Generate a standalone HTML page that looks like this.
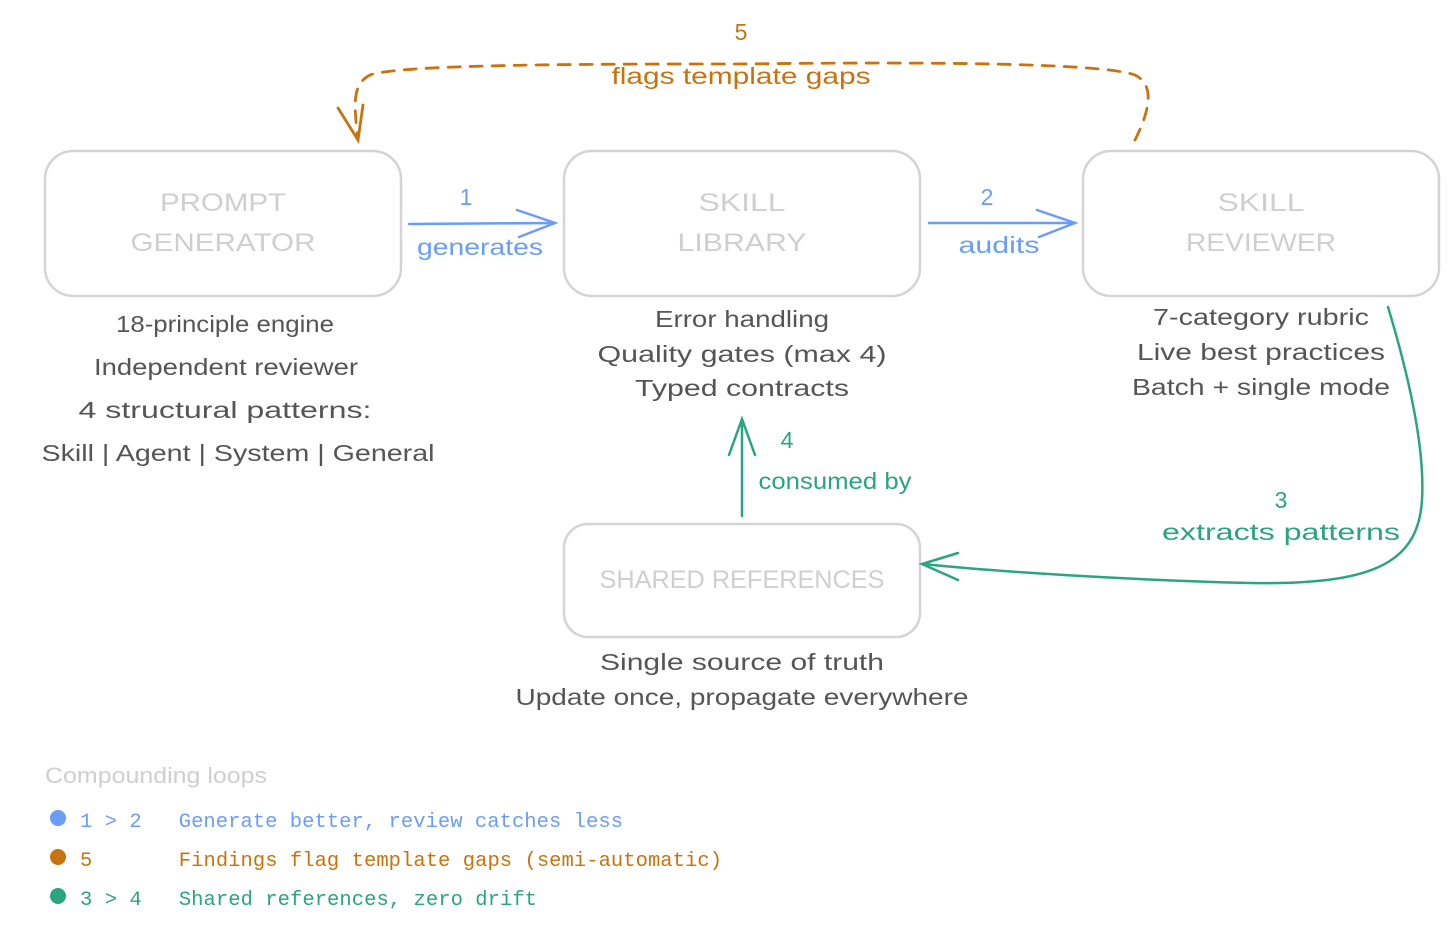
<!DOCTYPE html>
<html><head><meta charset="utf-8"><style>
html,body{margin:0;padding:0;background:#fff;}
svg{display:block;}
.h{font-family:"Liberation Sans",sans-serif;}
.m{font-family:"Liberation Mono",monospace;font-size:20.5px;}
</style></head><body>
<svg width="1456" height="928" viewBox="0 0 1456 928" xmlns="http://www.w3.org/2000/svg">
<g fill="none" stroke="#d4d4d4" stroke-width="2.5">
<rect x="45" y="151" width="356" height="145" rx="28"/>
<rect x="564" y="151" width="356" height="145" rx="28"/>
<rect x="1083" y="151" width="356" height="145" rx="28"/>
<rect x="564" y="524" width="356" height="113" rx="24"/>
</g>
<g class="h" fill="#cfcfcf" font-size="25" text-anchor="middle" lengthAdjust="spacingAndGlyphs">
<text x="223" y="211" textLength="126" lengthAdjust="spacingAndGlyphs">PROMPT</text>
<text x="223" y="251" textLength="185" lengthAdjust="spacingAndGlyphs">GENERATOR</text>
<text x="742" y="211" textLength="87" lengthAdjust="spacingAndGlyphs">SKILL</text>
<text x="742" y="251" textLength="129" lengthAdjust="spacingAndGlyphs">LIBRARY</text>
<text x="1261" y="211" textLength="87" lengthAdjust="spacingAndGlyphs">SKILL</text>
<text x="1261" y="251" textLength="150" lengthAdjust="spacingAndGlyphs">REVIEWER</text>
<text x="742" y="588" textLength="285" lengthAdjust="spacingAndGlyphs">SHARED REFERENCES</text>
</g>
<g class="h" fill="#555" font-size="23" text-anchor="middle">
<text x="225" y="332" textLength="218" lengthAdjust="spacingAndGlyphs">18-principle engine</text>
<text x="226" y="375" textLength="264" lengthAdjust="spacingAndGlyphs">Independent reviewer</text>
<text x="225" y="418" textLength="293" lengthAdjust="spacingAndGlyphs">4 structural patterns:</text>
<text x="238" y="461" textLength="393" lengthAdjust="spacingAndGlyphs">Skill | Agent | System | General</text>
<text x="742" y="327" textLength="174" lengthAdjust="spacingAndGlyphs">Error handling</text>
<text x="742" y="362" textLength="289" lengthAdjust="spacingAndGlyphs">Quality gates (max 4)</text>
<text x="742" y="396" textLength="214" lengthAdjust="spacingAndGlyphs">Typed contracts</text>
<text x="1261" y="325" textLength="216" lengthAdjust="spacingAndGlyphs">7-category rubric</text>
<text x="1261" y="360" textLength="248" lengthAdjust="spacingAndGlyphs">Live best practices</text>
<text x="1261" y="395" textLength="258" lengthAdjust="spacingAndGlyphs">Batch + single mode</text>
<text x="742" y="670" textLength="284" lengthAdjust="spacingAndGlyphs">Single source of truth</text>
<text x="742" y="705" textLength="453" lengthAdjust="spacingAndGlyphs">Update once, propagate everywhere</text>
</g>
<g stroke="#6a9dfb" stroke-width="2.5" fill="none" stroke-linecap="round">
<path d="M409 224 L553 223 M517 210 L555 223 L519 237"/>
<path d="M929 223 L1073 223 M1037 210 L1075 223 L1039 237"/>
</g>
<g class="h" fill="#6a9dfb" font-size="23" text-anchor="middle">
<text x="466" y="205">1</text>
<text x="480" y="255" textLength="126" lengthAdjust="spacingAndGlyphs">generates</text>
<text x="987" y="205">2</text>
<text x="999" y="253" textLength="81" lengthAdjust="spacingAndGlyphs">audits</text>
</g>
<g stroke="#2aa57f" stroke-width="2.5" fill="none" stroke-linecap="round">
<path d="M742 516 L742 420 M729 455 L742 419 L755 455"/>
<path d="M1388 307 C1410 380 1425 450 1422 500 C1418 565 1370 585 1250 583 C1130 580 1000 572 923 564"/>
<path d="M958 553 L922 564 L958 580"/>
</g>
<g class="h" fill="#2aa57f" font-size="23" text-anchor="middle">
<text x="787" y="448">4</text>
<text x="835" y="489" textLength="153" lengthAdjust="spacingAndGlyphs">consumed by</text>
<text x="1281" y="508">3</text>
<text x="1281" y="540" textLength="238" lengthAdjust="spacingAndGlyphs">extracts patterns</text>
</g>
<g stroke="#c8730e" stroke-width="2.8" fill="none" stroke-linecap="round">
<path d="M1135 140 C1150 110 1155 85 1135 75 C1100 62 900 62 740 64 C600 64 400 64 370 75 C350 85 355 110 358 140" stroke-dasharray="12 10"/>
<path d="M338 108 L358 140 L363 105"/>
</g>
<g class="h" fill="#c8730e" font-size="23" text-anchor="middle">
<text x="741" y="40">5</text>
<text x="741" y="84" textLength="259" lengthAdjust="spacingAndGlyphs">flags template gaps</text>
</g>
<text class="h" x="45" y="783" fill="#cfcfcf" font-size="22" textLength="222" lengthAdjust="spacingAndGlyphs">Compounding loops</text>
<circle cx="58" cy="818" r="8" fill="#6a9dfb"/>
<circle cx="58" cy="857" r="8" fill="#c8730e"/>
<circle cx="58" cy="896" r="8" fill="#2aa57f"/>
<text class="m" x="80" y="827" fill="#6a9dfb" xml:space="preserve" textLength="543">1 &gt; 2   Generate better, review catches less</text>
<text class="m" x="80" y="866" fill="#c8730e" xml:space="preserve" textLength="642">5       Findings flag template gaps (semi-automatic)</text>
<text class="m" x="80" y="905" fill="#2aa57f" xml:space="preserve" textLength="457">3 &gt; 4   Shared references, zero drift</text>
</svg>
</body></html>
